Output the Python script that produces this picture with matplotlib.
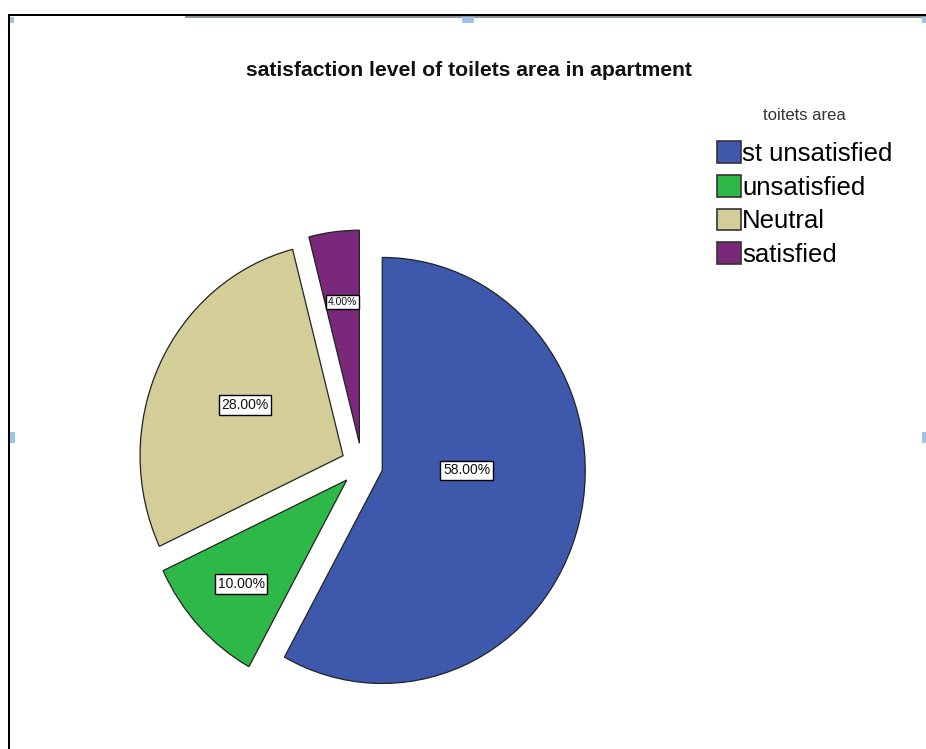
import matplotlib
matplotlib.use("Agg")
import matplotlib.pyplot as plt
from matplotlib.patches import Rectangle
import numpy as np

plt.rcParams['font.family'] = ['Liberation Sans', 'DejaVu Sans']

# survey answers
categories = ['st unsatisfied', 'unsatisfied', 'Neutral', 'satisfied']
percent = [58.0, 10.0, 28.0, 4.0]
colors = ['#3E58AC', '#2EB848', '#D3CE97', '#7A287A']
legend_title = 'toitets area'
title = 'satisfaction level of toilets area in apartment'

# label placement inside each slice (radius fraction, angle tweak in degrees)
label_dist = [0.416, 0.714, 0.539, 0.667]
label_turn = [14.4, 0.0, -1.0, 0.0]
label_size = [10, 10, 10, 7.5]

W, H = 926, 749
fig = plt.figure(figsize=(W / 100, H / 100), dpi=100)
fig.patch.set_facecolor('white')


def fx(x):
    return x / W


def fy(y):
    return 1 - y / H


# pie area in pixels: centre (362, 465), radii 203 x 213
cx, cy, rx, ry, half = 362, 465, 203, 213, 250
ax = fig.add_axes([fx(cx - half), fy(cy + half), 2 * half / W, 2 * half / H])

wedges, _ = ax.pie(percent, colors=colors, startangle=90, counterclock=False,
                   explode=[0.103] * len(percent),
                   wedgeprops=dict(edgecolor='#222222', linewidth=0.9))
ax.set_aspect('auto')
ax.set_xlim(-half / rx, half / rx)
ax.set_ylim(-half / ry, half / ry)
ax.axis('off')

for w, p, d, t, s in zip(wedges, percent, label_dist, label_turn, label_size):
    ang = np.deg2rad((w.theta1 + w.theta2) / 2 + t)
    x0, y0 = w.center
    ax.text(x0 + d * np.cos(ang), y0 + d * np.sin(ang), f'{p:.2f}%',
            ha='center', va='center', fontsize=s, color='#111111',
            bbox=dict(boxstyle='square,pad=0.2', facecolor='white',
                      edgecolor='black', linewidth=1.0))

fig.text(fx(469), fy(71), title, ha='center', va='center',
         fontsize=15.2, fontweight='bold', color='#111111')

# legend title sits apart from the entries
fig.text(fx(804), fy(115), legend_title, ha='center', va='center',
         fontsize=12, color='#333333')
leg = fig.legend(wedges, categories, loc='upper left',
                 bbox_to_anchor=(fx(717), fy(141)), frameon=False,
                 fontsize=18.5,
                 handlelength=0.93, handleheight=0.93, handletextpad=0.05,
                 labelspacing=0.35, borderpad=0, borderaxespad=0)
for h in leg.legend_handles:
    h.set_edgecolor('#333333')
    h.set_linewidth(1.2)

# page frame and selection handles
fig.add_artist(Rectangle((fx(8), fy(16)), fx(926 - 8), 2 / H,
                         transform=fig.transFigure, color='black', lw=0))
fig.add_artist(Rectangle((fx(185), fy(17.5)), fx(926 - 185), 1.5 / H,
                         transform=fig.transFigure, color='#8c939b', lw=0))
fig.add_artist(Rectangle((fx(8), 0), 2 / W, fy(14),
                         transform=fig.transFigure, color='black', lw=0))
for hx, hy, hw, hh in [(10, 17, 4, 6), (462, 17, 12, 6), (922, 17, 4, 6),
                       (10, 432, 5, 11), (922, 432, 4, 11)]:
    fig.add_artist(Rectangle((fx(hx), fy(hy + hh)), hw / W, hh / H,
                             transform=fig.transFigure, color='#9DC3E6', lw=0))

fig.savefig('out.png', dpi=100, facecolor='white')
